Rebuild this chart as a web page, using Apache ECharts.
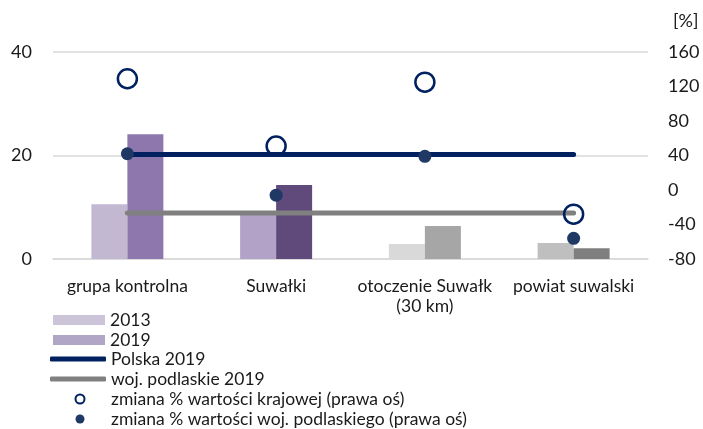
<!DOCTYPE html>
<html>
<head>
<meta charset="utf-8">
<script src="https://cdn.jsdelivr.net/npm/echarts@6/dist/echarts.min.js"></script>
<style>
html,body{margin:0;padding:0;background:#fff;}
#chart{width:703px;height:429px;}
</style>
</head>
<body>
<div id="chart"></div>
<script>
// ---- data ----
const categories = ['grupa kontrolna', 'Suwałki', 'otoczenie Suwałk\n(30 km)', 'powiat suwalski'];
const values2013 = [10.6, 8.5, 2.9, 3.1];
const values2019 = [24.1, 14.3, 6.4, 2.1];
const polska2019 = [20.2, 20.2, 20.2, 20.2];
const podlaskie2019 = [8.9, 8.9, 8.9, 8.9];
const zmianaKrajowej = [129, 51, 125, -28];
const zmianaPodlaskiego = [42, -6, 39, -56];
const leftTicks = { min: 0, max: 40, interval: 20 };
const rightTicks = { min: -80, max: 160, interval: 40 };

// ---- styles ----
const colors2013 = ['#c2b8d1', '#b2a2c7', '#d9d9d9', '#bfbfbf'];
const colors2019 = ['#8e77ac', '#604a7b', '#a6a6a6', '#7f7f7f'];
const FONT = 'Lato';
const TXT = '#1a1a1a';
const FS = 17.5;

const chart = echarts.init(document.getElementById('chart'));
const names = ['2013', '2019', 'Polska 2019', 'woj. podlaskie 2019',
  'zmiana % wartości krajowej (prawa oś)', 'zmiana % wartości woj. podlaskiego (prawa oś)'];
const legendText = { fontFamily: FONT, fontSize: FS, color: TXT, lineHeight: 20 };

chart.setOption({
  animation: false,
  textStyle: { fontFamily: FONT },
  grid: { left: 53, right: 55, top: 52, bottom: 170 },
  legend: [
    {
      data: [names[0], names[1]], orient: 'vertical', left: 53, top: 310, padding: 0,
      itemWidth: 52, itemHeight: 10, itemGap: 0, icon: 'rect',
      textStyle: legendText
    },
    {
      data: [names[2], names[3]], orient: 'vertical', left: 50, top: 349, padding: 0,
      itemWidth: 56, itemHeight: 5, itemGap: 0, icon: 'roundRect',
      textStyle: legendText
    },
    {
      data: [names[4], names[5]], orient: 'vertical', left: 74.5, top: 389, padding: 0,
      itemWidth: 9, itemHeight: 9, itemGap: 0, icon: 'circle',
      textStyle: Object.assign({}, legendText, { padding: [0, 0, 0, 21.5] })
    }
  ],
  xAxis: {
    type: 'category', data: categories,
    axisLine: { show: true, lineStyle: { color: '#d9d9d9', width: 1.5 } },
    axisTick: { show: false },
    axisLabel: { color: TXT, fontSize: FS, fontFamily: FONT, margin: 17, lineHeight: 20, interval: 0 }
  },
  yAxis: [
    {
      type: 'value', min: leftTicks.min, max: leftTicks.max, interval: leftTicks.interval,
      axisLine: { show: false }, axisTick: { show: false },
      splitLine: { lineStyle: { color: '#d9d9d9', width: 1.5 } },
      axisLabel: { color: TXT, fontSize: 18, fontFamily: FONT, margin: 21 }
    },
    {
      type: 'value', min: rightTicks.min, max: rightTicks.max, interval: rightTicks.interval,
      position: 'right',
      name: '[%]', nameLocation: 'end', nameGap: 22,
      nameTextStyle: { color: TXT, fontSize: 18, fontFamily: FONT, align: 'left', padding: [0, 0, 0, 25] },
      axisLine: { show: false }, axisTick: { show: false }, splitLine: { show: false },
      axisLabel: { color: TXT, fontSize: 18, fontFamily: FONT, margin: 20 }
    }
  ],
  series: [
    {
      name: names[0], type: 'bar', barWidth: 36, barGap: '0%',
      itemStyle: { color: '#ccc4d8' },
      data: values2013.map((v, i) => ({ value: v, itemStyle: { color: colors2013[i] } }))
    },
    {
      name: names[1], type: 'bar', barWidth: 36, barGap: '0%',
      itemStyle: { color: '#b2a6c6' },
      data: values2019.map((v, i) => ({ value: v, itemStyle: { color: colors2019[i] } }))
    },
    {
      name: names[2], type: 'line', data: polska2019, symbol: 'none', z: 3,
      lineStyle: { color: '#002060', width: 5, cap: 'round' }, itemStyle: { color: '#002060' }
    },
    {
      name: names[3], type: 'line', data: podlaskie2019, symbol: 'none', z: 3,
      lineStyle: { color: '#808080', width: 5, cap: 'round' }, itemStyle: { color: '#808080' }
    },
    {
      name: names[4], type: 'scatter', yAxisIndex: 1, data: zmianaKrajowej, symbolSize: 19, z: 4,
      itemStyle: { color: 'rgba(255,255,255,0)', borderColor: '#002060', borderWidth: 2.5, opacity: 1 }
    },
    {
      name: names[5], type: 'scatter', yAxisIndex: 1, data: zmianaPodlaskiego, symbolSize: 13, z: 5,
      itemStyle: { color: '#1f3864', opacity: 1 }
    }
  ]
});
</script>
</body>
</html>
